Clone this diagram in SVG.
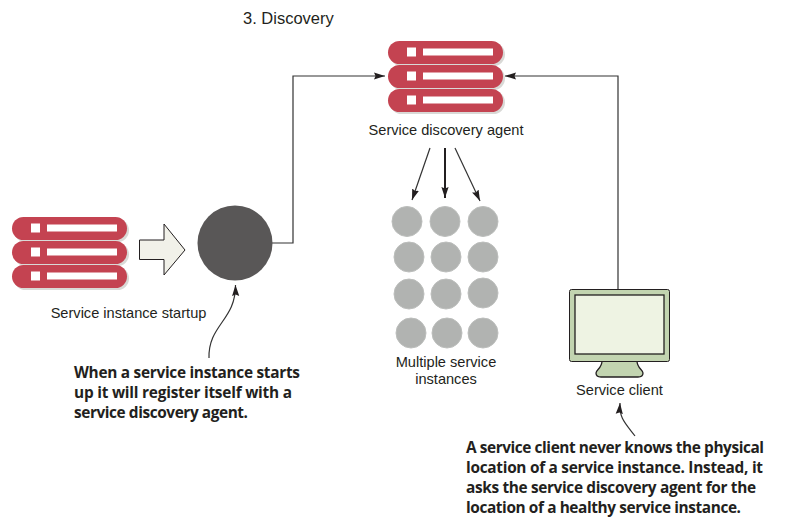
<svg xmlns="http://www.w3.org/2000/svg" width="787" height="529" viewBox="0 0 787 529">
<style>
text{font-family:"Liberation Sans",Arial,sans-serif;font-size:14.6px;fill:#231f20}
.n{text-anchor:middle}
.b{font-family:"Open Sans","Noto Sans",sans-serif;font-weight:700;font-size:15.4px;fill:#231f20}
.bar{fill:#c44351}
.sh{fill:#d9d9d6}
.w{fill:#fff}
.c{fill:#b1b3b1;stroke:#bcbebc;stroke-width:1}
.l{fill:none;stroke:#333;stroke-width:1.2}
</style>
<defs>
<marker id="a" markerUnits="userSpaceOnUse" markerWidth="12" markerHeight="8" refX="11" refY="4" orient="auto"><path d="M0 .4L11 4L0 7.600L1.500 4Z" fill="#231f20"/></marker>
<g id="srv">
<rect class="sh" x="2" y="2" width="115" height="23" rx="11.500"/>
<rect class="bar" width="115" height="23" rx="11.500"/>
<rect class="w" x="19" y="6.500" width="9" height="9"/>
<rect class="w" x="35" y="7.500" width="70" height="7"/>
</g>
</defs>
<g id="connectors">
<path class="l" d="M272 243H293V76H385" marker-end="url(#a)"/>
<path class="l" d="M618 289V76H505" marker-end="url(#a)"/>
<path class="l" d="M430 148L412 200" marker-end="url(#a)"/>
<path d="M445 148V198" fill="none" stroke="#231f20" stroke-width="2" marker-end="url(#a)"/>
<path class="l" d="M455 148L480 201" marker-end="url(#a)"/>
<path class="l" d="M209 358C208 325 236 320 235.500 285" marker-end="url(#a)"/>
<path class="l" d="M635 436C625 423 619 418 620 403" marker-end="url(#a)"/>
</g>
<g id="discovery-agent">
<use href="#srv" x="388" y="41"/><use href="#srv" x="388" y="65"/><use href="#srv" x="388" y="89"/>
<text class="n" x="446" y="135">Service discovery agent</text>
</g>
<g id="service-instance">
<use href="#srv" x="12" y="217"/><use href="#srv" x="12" y="241"/><use href="#srv" x="12" y="265"/>
<text class="n" x="128.500" y="318">Service instance startup</text>
</g>
<g id="startup-arrow"><path d="M139.500 240H164V224L185 250L164 275V259.500H139.500Z" fill="#f1f1e9" stroke="#231f20" stroke-width="1"/></g>
<g id="instance-circle"><circle cx="235" cy="243" r="37.500" fill="#595757"/></g>
<g id="instances">
<circle class="c" cx="407" cy="221.500" r="15"/><circle class="c" cx="445" cy="221.500" r="15"/><circle class="c" cx="483" cy="221.500" r="15"/>
<circle class="c" cx="409" cy="257" r="15"/><circle class="c" cx="446" cy="257" r="15"/><circle class="c" cx="483" cy="257" r="15"/>
<circle class="c" cx="409" cy="294" r="15"/><circle class="c" cx="446" cy="294" r="15"/><circle class="c" cx="483" cy="293" r="15"/>
<circle class="c" cx="411" cy="333" r="15"/><circle class="c" cx="447" cy="333" r="15"/><circle class="c" cx="483" cy="333" r="15"/>
<text class="n" x="446" y="367">Multiple service</text>
<text class="n" x="446" y="384">instances</text>
</g>
<g id="service-client">
<path d="M602 361C602 368 596 370 596 373C596 376 598 377 601 377H638C641 377 643 376 643 373C643 370 637 368 637 361Z" fill="#c2d4b0" stroke="#231f20" stroke-width="1.300"/>
<rect x="569.500" y="289.500" width="100" height="72" rx="2" fill="#c2d4b0" stroke="#231f20" stroke-width="1"/>
<rect x="575" y="295" width="89" height="59" fill="#eef3e3" stroke="#231f20" stroke-width="1.300"/>
<text class="n" x="619.500" y="395">Service client</text>
</g>
<text x="243" y="24" style="font-size:16.500px">3. Discovery</text>
<g id="note-startup">
<text class="b" x="74" y="378" textLength="226" lengthAdjust="spacing">When a service instance starts</text>
<text class="b" x="74" y="398" textLength="218" lengthAdjust="spacing">up it will register itself with a</text>
<text class="b" x="74" y="418" textLength="174" lengthAdjust="spacing">service discovery agent.</text>
</g>
<g id="note-client">
<text class="b" x="466" y="453" textLength="298" lengthAdjust="spacing">A service client never knows the physical</text>
<text class="b" x="466" y="473" textLength="297" lengthAdjust="spacing">location of a service instance. Instead, it</text>
<text class="b" x="466" y="493" textLength="290" lengthAdjust="spacing">asks the service discovery agent for the</text>
<text class="b" x="466" y="513" textLength="275" lengthAdjust="spacing">location of a healthy service instance.</text>
</g>
</svg>
